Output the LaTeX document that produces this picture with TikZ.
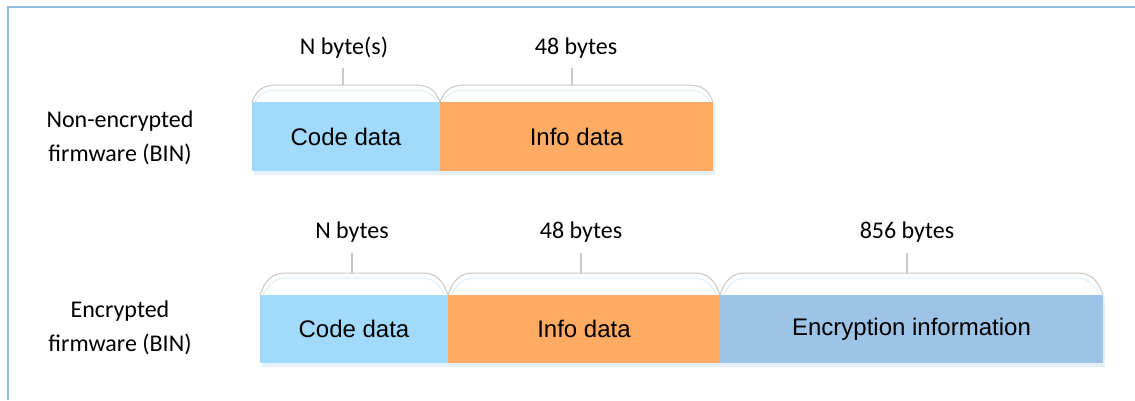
\documentclass[tikz,border=0pt]{standalone}
\usepackage{fontspec}
\newfontfamily\lblfont{Carlito}
\newfontfamily\boxfont{Liberation Sans}
\definecolor{framecol}{HTML}{92BDE3}
\definecolor{codecol}{HTML}{A2DAFD}
\definecolor{infocol}{HTML}{FFAB63}
\definecolor{enccol}{HTML}{9DC3E6}
\definecolor{bracecol}{HTML}{C9C9C9}
\definecolor{bracein}{HTML}{E2F0FA}
\definecolor{shadowcol}{HTML}{E4F0F9}
\begin{document}
\begin{tikzpicture}[x=1pt,y=-1pt,
  seg/.style={draw=none, inner sep=0pt, outer sep=0pt, anchor=north west,
    font=\boxfont\fontsize{24}{28}\selectfont, text=black},
  lbl/.style={inner sep=0pt, font=\lblfont\fontsize{24}{28}\selectfont, text=black},
  side/.style={inner sep=0pt, align=center, font=\lblfont\fontsize{24}{34}\selectfont, text=black},
  bracel/.style={draw=bracecol, line width=1pt},
  bracei/.style={draw=bracein, line width=1pt},
  tickl/.style={draw=bracecol, line width=1.2pt},
  shadow/.style={fill=shadowcol}
]
\useasboundingbox (0,0) rectangle (1135,400);
\fill[white] (0,0) rectangle (1135,400);
% frame
\draw[framecol, line width=2.5pt] (8,400) -- (8,7) -- (1135,7);

% ---------- row 1 ----------
\fill[shadow] (254,104) rectangle (715,175);
\node[seg, fill=codecol, minimum width=188pt, minimum height=69pt] (c1) at (252,102) {Code data};
\node[seg, fill=infocol, minimum width=273pt, minimum height=69pt] (i1) at (440,102) {Info data};

% braces row 1
\foreach \a/\b in {252/440, 440/713}{
  \draw[bracei] (\a+3,102) .. controls (\a+8,93) and (\a+14,90) .. (\a+26,90) -- (\b-26,90) .. controls (\b-14,90) and (\b-8,93) .. (\b-3,102);
  \draw[bracel] (\a,102) .. controls (\a+5,89) and (\a+12,85) .. (\a+26,85) -- (\b-26,85) .. controls (\b-12,85) and (\b-5,89) .. (\b,102);
}
\node[lbl] (l1a) at (344,48) {N byte(s)};
\node[lbl] (l1b) at (576,48) {48 bytes};
\coordinate (t1a) at (343,68); \coordinate (b1a) at (343,85);
\coordinate (t1b) at (572,68); \coordinate (b1b) at (572,85);
\draw[tickl] (t1a) -- (b1a);
\draw[tickl] (t1b) -- (b1b);

\node[side] (s1) at (120,138) {Non-encrypted\\firmware (BIN)};

% ---------- row 2 ----------
\fill[shadow] (262,297) rectangle (1105,367);
\node[seg, fill=codecol, minimum width=188pt, minimum height=68pt] (c2) at (260,295) {Code data};
\node[seg, fill=infocol, minimum width=272pt, minimum height=68pt] (i2) at (448,295) {Info data};
\node[seg, fill=enccol, minimum width=383pt, minimum height=68pt] (e2) at (720,295) {Encryption information};

\foreach \a/\b in {260/448, 448/720, 720/1103}{
  \draw[bracei] (\a+3,295) .. controls (\a+8,286) and (\a+14,278) .. (\a+26,278) -- (\b-26,278) .. controls (\b-14,278) and (\b-8,286) .. (\b-3,295);
  \draw[bracel] (\a,295) .. controls (\a+5,280) and (\a+12,273) .. (\a+26,273) -- (\b-26,273) .. controls (\b-12,273) and (\b-5,280) .. (\b,295);
}
\node[lbl] (l2a) at (352,232) {N bytes};
\node[lbl] (l2b) at (581,232) {48 bytes};
\node[lbl] (l2c) at (907,232) {856 bytes};
\coordinate (t2a) at (352,253); \coordinate (b2a) at (352,273);
\coordinate (t2b) at (581,253); \coordinate (b2b) at (581,273);
\coordinate (t2c) at (907,253); \coordinate (b2c) at (907,273);
\draw[tickl] (t2a) -- (b2a);
\draw[tickl] (t2b) -- (b2b);
\draw[tickl] (t2c) -- (b2c);

\node[side] (s2) at (120,328) {Encrypted\\firmware (BIN)};
\end{tikzpicture}
\end{document}
